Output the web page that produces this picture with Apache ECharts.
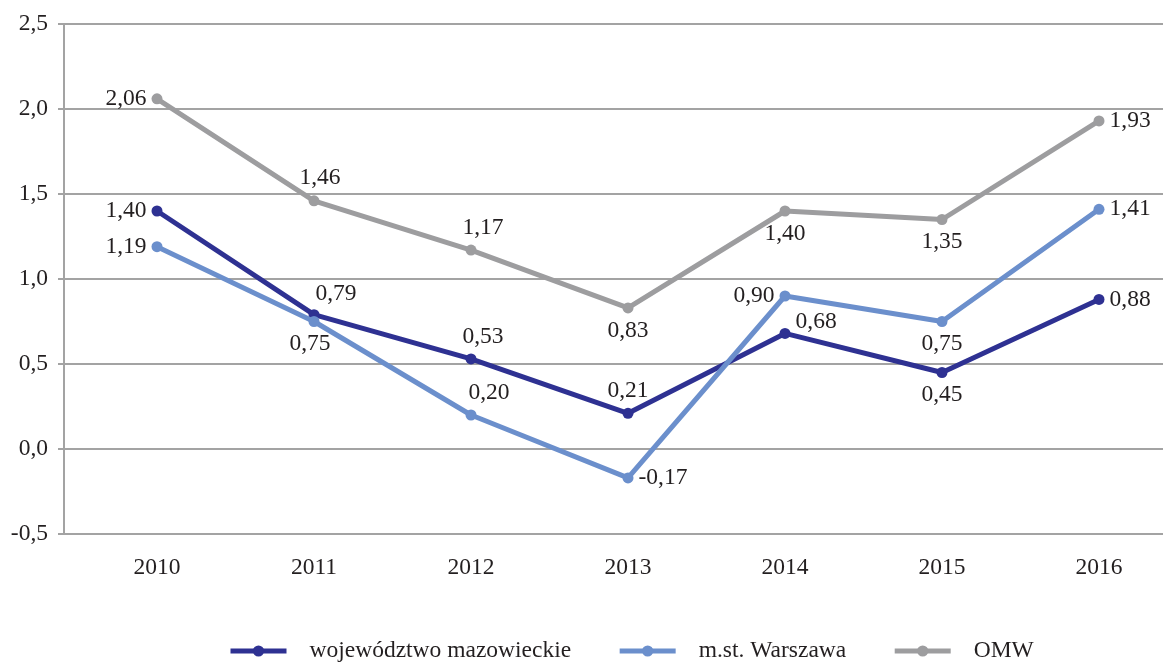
<!DOCTYPE html>
<html>
<head>
<meta charset="utf-8">
<script src="https://cdn.jsdelivr.net/npm/echarts@6/dist/echarts.min.js"></script>
<style>
  html, body { margin: 0; padding: 0; background: #fff; }
  #chart { width: 1163px; height: 662px; }
</style>
</head>
<body>
<div id="chart"></div>
<script>
const years = ["2010", "2011", "2012", "2013", "2014", "2015", "2016"];
const mazowieckie = [1.40, 0.79, 0.53, 0.21, 0.68, 0.45, 0.88];
const warszawa = [1.19, 0.75, 0.20, -0.17, 0.90, 0.75, 1.41];
const omw = [2.06, 1.46, 1.17, 0.83, 1.40, 1.35, 1.93];
const seriesNames = ["województwo mazowieckie", "m.st. Warszawa", "OMW"];

// gdzie stoi etykieta przy każdym punkcie
const labelLayout = [
  [["left"], ["top", [22, 2]], ["top", [12, 0]], ["top"], ["right", [0, -12]], ["bottom"], ["right"]],
  [["left"], ["bottom", [-4, 0]], ["top", [18, 0]], ["right"], ["left"], ["bottom"], ["right"]],
  [["left"], ["top", [6, 0]], ["top", [12, 0]], ["bottom"], ["bottom"], ["bottom"], ["right"]],
];
const colors = ["#2e3192", "#6b8fcc", "#9d9d9f"];

const font = "Liberation Serif";
const textColor = "#231f20";
const gridColor = "#a3a3a3";
const fs = 23.5;
const fmt = (v) => v.toFixed(2).replace(".", ",");

const chart = echarts.init(document.getElementById("chart"));

const series = [mazowieckie, warszawa, omw].map((vals, si) => ({
  name: seriesNames[si],
  type: "line",
  xAxisIndex: 1,
  yAxisIndex: 1,
  data: vals.map((v, i) => {
    const l = labelLayout[si][i];
    return {
      value: v,
      label: { position: l[0], offset: l[1] || [0, 0] },
    };
  }),
  color: colors[si],
  symbol: "circle",
  symbolSize: 11,
  lineStyle: { width: 5, color: colors[si] },
  itemStyle: { color: colors[si] },
  label: {
    show: true,
    distance: 5,
    fontFamily: font,
    fontSize: fs,
    color: textColor,
    formatter: (p) => fmt(p.value),
  },
  emphasis: { disabled: true },
  clip: false,
  z: 2 + si,
}));

chart.setOption({
  animation: false,
  textStyle: { fontFamily: font },
  legend: {
    data: seriesNames,
    left: 223,
    top: 634,
    itemWidth: 56,
    itemHeight: 14,
    itemGap: 46,
    lineStyle: { width: 5 },
    textStyle: {
      fontFamily: font,
      fontSize: fs,
      color: textColor,
      padding: [0, 0, 0, 18],
    },
  },
  grid: [
    { left: 64, right: 0, top: 24, bottom: 128, outerBoundsMode: "none" },
    { left: 78.5, right: -14.5, top: 24, bottom: 128, outerBoundsMode: "none" },
  ],
  xAxis: [
    { type: "category", gridIndex: 0, data: years, show: false },
    {
      type: "category",
      gridIndex: 1,
      data: years,
      axisLine: { show: false },
      axisTick: { show: false },
      axisLabel: {
        fontFamily: font,
        fontSize: fs,
        color: textColor,
        margin: 22,
      },
    },
  ],
  yAxis: [
    {
      type: "value",
      gridIndex: 0,
      min: -0.5,
      max: 2.5,
      interval: 0.5,
      axisLine: { show: true, lineStyle: { color: gridColor, width: 2 } },
      axisTick: { show: true, length: 6, lineStyle: { color: gridColor, width: 2 } },
      splitLine: { show: true, lineStyle: { color: gridColor, width: 2 } },
      axisLabel: {
        fontFamily: font,
        fontSize: fs,
        color: textColor,
        margin: 16,
        formatter: (v) => v.toFixed(1).replace(".", ","),
      },
    },
    {
      type: "value",
      gridIndex: 1,
      min: -0.5,
      max: 2.5,
      interval: 0.5,
      show: false,
      splitLine: { show: false },
    },
  ],
  series,
});
</script>
</body>
</html>
